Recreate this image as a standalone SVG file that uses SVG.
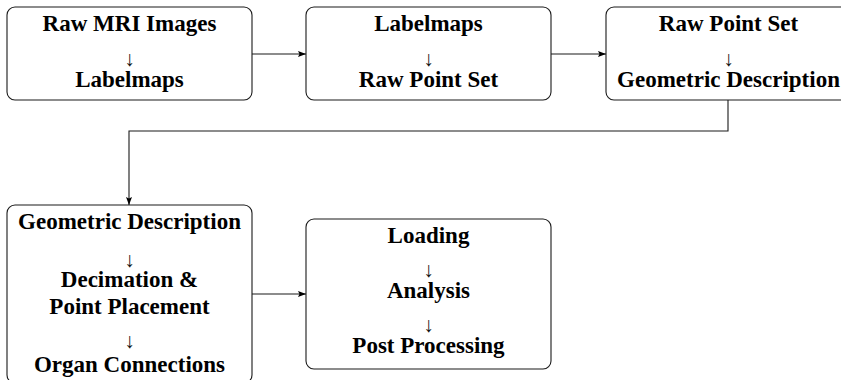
<svg xmlns="http://www.w3.org/2000/svg" width="841" height="380" viewBox="0 0 841 380">
<style>
.box{fill:#fff;stroke:#1a1a1a;stroke-width:1.1}
.t{font-family:"Liberation Serif","Times New Roman",serif;font-weight:bold;font-size:23px;text-anchor:middle;fill:#000}
.a{font-family:"Liberation Serif","Times New Roman",serif;font-weight:normal;font-size:21px;text-anchor:middle;fill:#111;opacity:0.99}
.c{fill:none;stroke:#1a1a1a;stroke-width:1.1}
</style>
<defs>
<marker id="ah" viewBox="0 0 8 6" refX="8" refY="3" markerWidth="8" markerHeight="6" markerUnits="userSpaceOnUse" orient="auto">
<path d="M0,0 L8,3 L0,6 L1.5,3 Z" fill="#000"/>
</marker>
</defs>
<g id="connectors">
<line class="c" x1="252" y1="54" x2="306" y2="54" marker-end="url(#ah)"/>
<line class="c" x1="551" y1="54" x2="606" y2="54" marker-end="url(#ah)"/>
<polyline class="c" points="728,100 728,131 129,131 129,205" marker-end="url(#ah)"/>
<line class="c" x1="252" y1="294" x2="306" y2="294" marker-end="url(#ah)"/>
</g>
<g id="node1">
<rect class="box" x="7" y="7" width="245" height="93" rx="8"/>
<text class="t" x="129.5" y="31">Raw MRI Images</text>
<text class="a" x="129.5" y="66">↓</text>
<text class="t" x="129.5" y="87">Labelmaps</text>
</g>
<g id="node2">
<rect class="box" x="306" y="7" width="245" height="93" rx="8"/>
<text class="t" x="428.5" y="31">Labelmaps</text>
<text class="a" x="428.5" y="66">↓</text>
<text class="t" x="428.5" y="87">Raw Point Set</text>
</g>
<g id="node3">
<rect class="box" x="606" y="7" width="245" height="93" rx="8"/>
<text class="t" x="728.5" y="31">Raw Point Set</text>
<text class="a" x="728.5" y="66">↓</text>
<text class="t" x="728.5" y="87">Geometric Description</text>
</g>
<g id="node4">
<rect class="box" x="7" y="205" width="245" height="178" rx="8"/>
<text class="t" x="129.5" y="229">Geometric Description</text>
<text class="a" x="129.5" y="267">↓</text>
<text class="t" x="129.5" y="287">Decimation &amp;</text>
<text class="t" x="129.5" y="314">Point Placement</text>
<text class="a" x="129.5" y="348">↓</text>
<text class="t" x="129.5" y="372">Organ Connections</text>
</g>
<g id="node5">
<rect class="box" x="306" y="219" width="245" height="150" rx="8"/>
<text class="t" x="428.5" y="243">Loading</text>
<text class="a" x="428.5" y="277">↓</text>
<text class="t" x="428.5" y="298">Analysis</text>
<text class="a" x="428.5" y="332">↓</text>
<text class="t" x="428.5" y="353">Post Processing</text>
</g>
</svg>
